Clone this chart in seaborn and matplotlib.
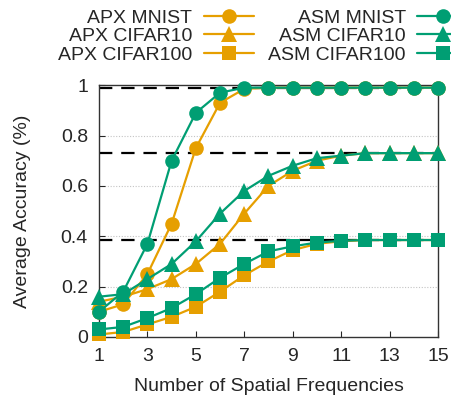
import matplotlib
matplotlib.use("Agg")
import matplotlib.pyplot as plt
from matplotlib.lines import Line2D
import seaborn as sns
import pandas as pd

freqs = list(range(1, 16))

apx_mnist = [0.10, 0.13, 0.25, 0.45, 0.75, 0.93, 0.985, 0.99, 0.99, 0.99, 0.99, 0.99, 0.99, 0.99, 0.99]
asm_mnist = [0.10, 0.18, 0.37, 0.70, 0.89, 0.97, 0.99, 0.99, 0.99, 0.99, 0.99, 0.99, 0.99, 0.99, 0.99]
apx_cifar10 = [0.14, 0.16, 0.19, 0.23, 0.29, 0.37, 0.49, 0.60, 0.66, 0.70, 0.72, 0.73, 0.73, 0.73, 0.73]
asm_cifar10 = [0.16, 0.17, 0.23, 0.29, 0.38, 0.49, 0.58, 0.64, 0.68, 0.71, 0.72, 0.73, 0.73, 0.73, 0.73]
apx_cifar100 = [0.01, 0.02, 0.05, 0.08, 0.12, 0.18, 0.245, 0.30, 0.345, 0.37, 0.38, 0.385, 0.385, 0.385, 0.385]
asm_cifar100 = [0.03, 0.04, 0.075, 0.115, 0.17, 0.235, 0.29, 0.34, 0.36, 0.375, 0.382, 0.385, 0.385, 0.385, 0.385]

ceilings = [0.99, 0.73, 0.385]

series = [
    ("APX MNIST", apx_mnist, "#E69F00", "o"),
    ("APX CIFAR10", apx_cifar10, "#E69F00", "^"),
    ("APX CIFAR100", apx_cifar100, "#E69F00", "s"),
    ("ASM MNIST", asm_mnist, "#009E73", "o"),
    ("ASM CIFAR10", asm_cifar10, "#009E73", "^"),
    ("ASM CIFAR100", asm_cifar100, "#009E73", "s"),
]

sns.set_style("ticks")
plt.rcParams["font.family"] = ["Liberation Sans", "DejaVu Sans"]

fig = plt.figure(figsize=(4.52, 3.96), dpi=100)
ax = fig.add_axes([0.219, 0.149, 0.750, 0.636])

for yv in [0.2, 0.4, 0.6, 0.8]:
    ax.axhline(yv, color="#c4c4c4", lw=0.8, ls=(0, (1, 1.5)), zorder=0)
for c in ceilings:
    ax.axhline(c, color="black", lw=1.6, ls=(0, (6, 4)), zorder=1)

handles = []
for name, vals, color, marker in series:
    df = pd.DataFrame({"freq": freqs, "acc": vals})
    ms = {"o": 10.5, "^": 11, "s": 9.5}[marker]
    sns.lineplot(data=df, x="freq", y="acc", ax=ax, color=color, marker=marker,
                 markersize=ms, markeredgewidth=0, lw=1.6, clip_on=False, zorder=3)
    handles.append(Line2D([], [], color=color, marker=marker, markersize=ms,
                          markeredgewidth=0, lw=1.6, label=name))

ax.set_xlim(1, 15)
ax.set_ylim(0, 1)
ax.set_xticks([1, 3, 5, 7, 9, 11, 13, 15])
ax.set_yticks([0, 0.2, 0.4, 0.6, 0.8, 1])
ax.set_yticklabels(["0", "0.2", "0.4", "0.6", "0.8", "1"])
ax.tick_params(direction="in", labelsize=14, length=4, width=0.8)
ax.tick_params(axis="x", pad=8)
ax.tick_params(axis="y", pad=8)
for sp in ax.spines.values():
    sp.set_linewidth(1.0)
    sp.set_color("#333333")
ax.set_xlabel("Number of Spatial Frequencies", fontsize=14, labelpad=9)
ax.set_ylabel("Average Accuracy (%)", fontsize=14, labelpad=21)

fig.legend(handles=handles, ncol=2, markerfirst=False, loc="upper left",
           bbox_to_anchor=(0.128, 0.977), frameon=False, fontsize=14,
           handlelength=2.6, handletextpad=0.6, columnspacing=0.72,
           labelspacing=0.05, borderaxespad=0, borderpad=0)

fig.savefig("out.png", dpi=100)
